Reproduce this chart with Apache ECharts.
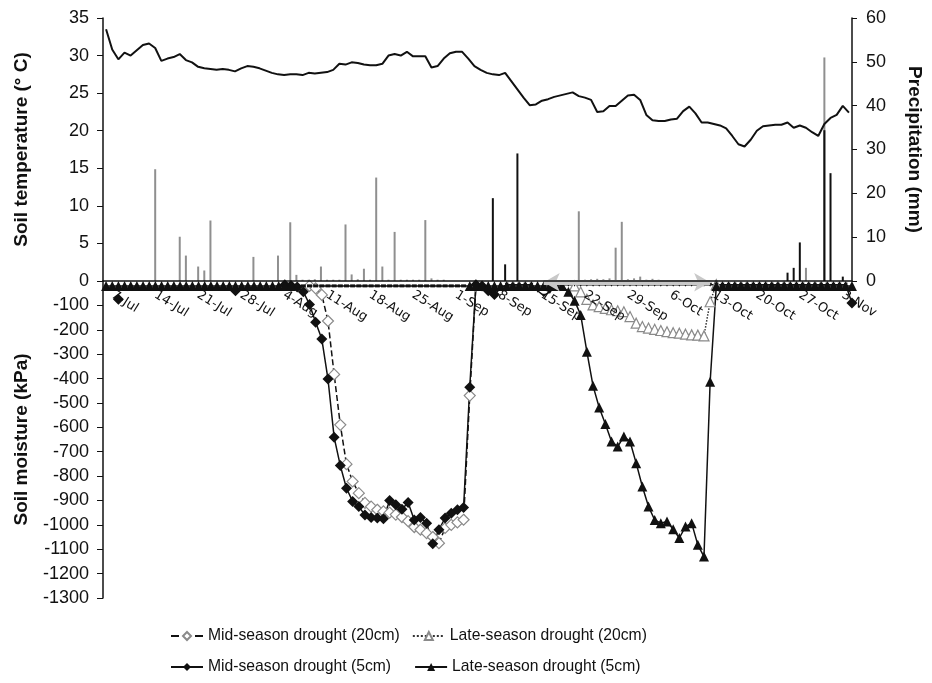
<!DOCTYPE html>
<html>
<head>
<meta charset="utf-8">
<title>Soil temperature, precipitation and soil moisture</title>
<script src="https://cdn.jsdelivr.net/npm/echarts@6.0.0/dist/echarts.min.js"></script>
<style>
  html, body { margin: 0; padding: 0; background: #fff; }
  #chart { width: 932px; height: 683px; }
</style>
</head>
<body>
<div id="chart"></div>
<script>
// days on the x axis, 6-Jul .. 4-Nov
const months = [['Jul', 6, 31], ['Aug', 1, 31], ['Sep', 1, 30], ['Oct', 1, 31], ['Nov', 1, 4]];
const days = [];
months.forEach(([m, from, to]) => {
  for (let d = from; d <= to; d++) days.push(d + '-' + m);
});

const weekLabels = ['7-Jul', '14-Jul', '21-Jul', '28-Jul', '4-Aug', '11-Aug', '18-Aug', '25-Aug', '1-Sep',
  '8-Sep', '15-Sep', '22-Sep', '29-Sep', '6-Oct', '13-Oct', '20-Oct', '27-Oct', '3-Nov'];

// soil temperature (°C), one value per day
const soilTemp = [
  33.5, 30.8, 29.5, 30.4, 30.0, 30.7, 31.4, 31.6, 31.0, 29.3,
  29.6, 29.8, 30.2, 29.4, 29.1, 28.5, 28.3, 28.2, 28.1, 28.2,
  28.1, 27.9, 28.3, 28.6, 28.5, 28.3, 28.0, 27.7, 27.5, 27.4,
  27.5, 27.5, 27.4, 27.7, 27.6, 27.7, 27.8, 28.1, 28.9, 28.8,
  29.1, 29.0, 28.8, 28.7, 28.7, 28.9, 30.0, 30.2, 30.0, 30.5,
  29.9, 29.9, 29.9, 28.4, 28.6, 29.6, 30.3, 30.5, 30.5, 29.6,
  28.6, 28.1, 27.7, 27.5, 27.4, 27.7, 26.6, 25.5, 24.4, 23.4,
  23.5, 24.0, 24.2, 24.5, 24.7, 24.9, 25.1, 24.6, 24.4, 24.1,
  22.5, 22.6, 23.3, 23.3, 24.0, 24.7, 24.8, 24.1, 22.1, 21.4,
  21.3, 21.3, 21.5, 21.6, 22.6, 23.2, 22.3, 21.1, 21.1, 20.9,
  20.7, 20.3, 19.3, 18.2, 17.9, 18.8, 20.0, 20.6, 20.7, 20.8,
  20.8, 21.1, 20.4, 20.7, 20.4, 19.8, 19.3, 20.9, 21.7, 22.1,
  23.3, 22.4
];

// precipitation (mm): day index -> amount
const rainDay = [8, 12, 13, 15, 16, 17, 24, 28, 30,
  31, 32, 33, 34, 35, 36, 37, 38, 39, 40, 41, 42, 43, 44, 45, 46, 47, 48, 49, 50, 51, 52, 53, 54, 55,
  77, 78, 79, 80, 81, 82, 83, 84, 85, 86, 87, 88, 89, 90, 114, 117];
const rainMm = [25.5, 10.1, 5.8, 3.3, 2.4, 13.8, 5.5, 5.8, 13.4,
  1.4, 0.3, 0.3, 0.4, 3.3, 0.3, 0.3, 0.3, 12.9, 1.5, 0.4, 2.8, 0.3, 23.6, 3.3, 0.3, 11.2, 0.3, 0.3, 0.3, 0.3, 13.9, 0.6, 0.3, 0.3,
  15.9, 0.3, 0.4, 0.5, 0.4, 0.6, 7.6, 13.5, 0.4, 0.6, 1.0, 0.3, 0.5, 0.3, 3.0, 51.0];
// black bars
const irrDay = [63, 65, 67, 111, 112, 113, 117, 118, 120];
const irrMm = [18.9, 3.8, 29.1, 1.9, 3.0, 8.8, 34.4, 24.6, 1.0];

// soil moisture (kPa)
const mid20cm = [
  null, null, null, null, null, null, null, null, null, null,
  null, null, null, null, null, null, null, null, null, null,
  null, null, null, null, null, null, null, null, null, null,
  null, null, null, -20, -30, -57, -164, -383, -590, -751,
  -822, -870, -910, -925, -938, -945, -950, -958, -968, -985,
  -1009, -1020, -1034, -1050, -1075, -1013, -1000, -990, -979, -470,
  -20, null, null, null, null, null, null, null, null, null,
  null, null, null, null, null, null, null, null, null, null,
  null, null, null, null, null, null, null, null, null, null,
  null, null, null, null, null, null, null, null, null, null,
  null, null, null, null, null, null, null, null, null, null,
  null, null, null, null, null, null, null, null, null, null,
  null, null
];
const late20cm = [
  null, null, null, null, null, null, null, null, null, null,
  null, null, null, null, null, null, null, null, null, null,
  null, null, null, null, null, null, null, null, null, null,
  null, null, null, null, null, null, null, null, null, null,
  null, null, null, null, null, null, null, null, null, null,
  null, null, null, null, null, null, null, null, null, null,
  null, null, null, null, null, null, null, null, null, null,
  null, null, null, null, null, null, -20, -45, -75, -98,
  -105, -112, -118, -122, -126, -146, -173, -187, -193, -198,
  -203, -208, -212, -214, -218, -221, -222, -225, -85, -15,
  null, null, null, null, null, null, null, null, null, null,
  null, null, null, null, null, null, null, null, null, null,
  null, null
];
const mid5cm = [
  null, null, -75, null, null, null, null, null, null, null,
  null, null, null, null, null, null, null, null, null, null,
  null, -40, null, null, null, null, null, null, null, -15,
  -18, -25, -44, -96, -169, -238, -402, -641, -757, -850,
  -904, -925, -960, -970, -972, -975, -900, -918, -936, -908,
  -980, -970, -993, -1078, -1020, -972, -952, -938, -929, -436,
  -15, -20, -40, -55, -30, -15, -15, -15, -15, -15,
  -40, -60, -45, -15, -15, -15, -15, -15, -15, -15,
  -15, -15, -15, -15, -15, -15, -15, -15, -15, -15,
  -15, -15, -15, -15, -15, -15, -15, -15, -15, -15,
  -15, -15, -15, -15, -15, -15, -15, -15, -15, -15,
  -15, -15, -15, -15, -15, -15, -15, -15, -15, -15,
  -15, -90
];
const late5cm = [
  -20, -20, -20, -20, -20, -20, -20, -20, -20, -20,
  -20, -20, -20, -20, -20, -20, -20, -20, -20, -20,
  -20, -20, -20, -20, -20, -20, -20, -20, -20, -20,
  -20, -20, -20, -20, -20, -20, -20, -20, -20, -20,
  -20, -20, -20, -20, -20, -20, -20, -20, -20, -20,
  -20, -20, -20, -20, -20, -20, -20, -20, -20, -20,
  -20, -20, -20, -20, -20, -20, -20, -20, -20, -20,
  -20, -20, -20, -20, -20, -44, -81, -139, -290, -430,
  -519, -586, -658, -679, -638, -658, -747, -843, -925, -980,
  -993, -986, -1018, -1054, -1007, -993, -1082, -1130, -413, -20,
  -20, -20, -20, -20, -20, -20, -20, -20, -20, -20,
  -20, -20, -20, -20, -20, -20, -20, -20, -20, -20,
  -20, -20
];

// drought window shown by the grey arrow
const arrowFrom = 71, arrowTo = 98;

const rain = days.map(() => null);
rainDay.forEach((d, k) => { rain[d] = rainMm[k] });
const irrigation = days.map(() => null);
irrDay.forEach((d, k) => { irrigation[d] = irrMm[k] });

// small marks where the series sit on the axis
const mid5Data = mid5cm.map((v, i) => (i >= 64 && i < 121 && v !== null)
  ? { value: v, symbol: 'triangle', symbolRotate: 180, symbolSize: 4 } : v);
const late5Data = late5cm.map((v, i) => (i >= 31 && i <= 58)
  ? { value: v, symbol: 'rect', symbolSize: [5, 3] } : v);

const ink = '#111';
const axisLine = { show: true, lineStyle: { color: ink, width: 1.5 } };
const tickFont = { fontFamily: 'Liberation Sans', fontSize: 18, color: ink };
const nameFont = { fontFamily: 'Liberation Sans', fontSize: 19, fontWeight: 'bold', color: ink };
const legendFont = { fontFamily: 'Liberation Sans', fontSize: 15.7, color: ink };
const plain = v => String(v);

const chart = echarts.init(document.getElementById('chart'));
chart.setOption({
  animation: false,
  grid: [
    { left: 103, right: 77, top: 18, height: 263 },
    { left: 103, right: 77, top: 281, height: 317 }
  ],
  xAxis: [
    {
      type: 'category', gridIndex: 0, data: days,
      axisLine: axisLine, axisTick: { show: false },
      axisLabel: {
        interval: (i, v) => weekLabels.includes(v),
        rotate: -32, margin: 13,
        fontFamily: 'DejaVu Sans', fontSize: 13, color: ink
      },
      z: 10
    },
    { type: 'category', gridIndex: 1, data: days, show: false }
  ],
  yAxis: [
    {
      type: 'value', gridIndex: 0, position: 'left', min: 0, max: 35, interval: 5,
      name: 'Soil temperature (° C)', nameLocation: 'middle', nameGap: 72, nameTextStyle: nameFont,
      axisLine: axisLine, axisTick: { show: true, length: 6, lineStyle: { color: ink } },
      axisLabel: Object.assign({ margin: 14 }, tickFont), splitLine: { show: false }
    },
    {
      type: 'value', gridIndex: 0, position: 'right', min: 0, max: 60, interval: 10,
      name: 'Precipitation (mm)', nameLocation: 'middle', nameRotate: -90, nameGap: 53, nameTextStyle: nameFont,
      axisLine: axisLine, axisTick: { show: true, length: 5, lineStyle: { color: ink } },
      axisLabel: Object.assign({ margin: 14 }, tickFont), splitLine: { show: false }
    },
    {
      type: 'value', gridIndex: 1, position: 'left', min: -1300, max: 0, interval: 100,
      name: 'Soil moisture (kPa)', nameLocation: 'middle', nameGap: 72, nameTextStyle: nameFont,
      axisLine: axisLine, axisTick: { show: true, length: 6, lineStyle: { color: ink } },
      axisLabel: Object.assign({ margin: 14, showMaxLabel: false, formatter: plain }, tickFont),
      splitLine: { show: false }
    }
  ],
  legend: [
    {
      data: ['Mid-season drought (20cm)', 'Late-season drought (20cm)'],
      left: 165, top: 623, itemGap: 12, itemWidth: 32, itemHeight: 10, textStyle: legendFont
    },
    {
      data: ['Mid-season drought (5cm)', 'Late-season drought (5cm)'],
      left: 165, top: 654, itemGap: 23, itemWidth: 32, itemHeight: 10, textStyle: legendFont
    }
  ],
  series: [
    {
      name: 'Rain', type: 'bar', xAxisIndex: 0, yAxisIndex: 1, data: rain,
      barWidth: 2, barGap: '-100%', itemStyle: { color: '#8f8f8f' }, silent: true
    },
    {
      name: 'Irrigation', type: 'bar', xAxisIndex: 0, yAxisIndex: 1, data: irrigation,
      barWidth: 2, barGap: '-100%', itemStyle: { color: ink }, silent: true
    },
    {
      name: 'Soil temperature', type: 'line', xAxisIndex: 0, yAxisIndex: 0, data: soilTemp,
      showSymbol: false, lineStyle: { color: ink, width: 2 }, z: 5, silent: true
    },
    {
      name: 'Mid-season drought (20cm)', type: 'line', xAxisIndex: 1, yAxisIndex: 2, data: mid20cm,
      symbol: 'diamond', symbolSize: 11, showAllSymbol: true,
      itemStyle: { color: '#fff', borderColor: '#8a8a8a', borderWidth: 1.2 },
      lineStyle: { color: ink, width: 1.5, type: 'dashed' }
    },
    {
      name: 'Late-season drought (20cm)', type: 'line', xAxisIndex: 1, yAxisIndex: 2, data: late20cm,
      symbol: 'triangle', symbolSize: 10, showAllSymbol: true,
      itemStyle: { color: '#fff', borderColor: '#8a8a8a', borderWidth: 1.2 },
      lineStyle: { color: '#333', width: 1.5, type: 'dotted' }
    },
    {
      name: 'Mid-season drought (5cm)', type: 'line', xAxisIndex: 1, yAxisIndex: 2, data: mid5Data,
      symbol: 'diamond', symbolSize: 11, showAllSymbol: true,
      itemStyle: { color: ink }, lineStyle: { color: ink, width: 1.5 }
    },
    {
      name: 'Late-season drought (5cm)', type: 'line', xAxisIndex: 1, yAxisIndex: 2, data: late5Data,
      symbol: 'triangle', symbolSize: 10, showAllSymbol: true,
      itemStyle: { color: ink }, lineStyle: { color: ink, width: 1.5 },
      markLine: {
        silent: true, symbol: ['arrow', 'arrow'], symbolSize: [14, 16],
        label: { show: false },
        lineStyle: { color: '#c8c8c8', width: 5, type: 'solid' },
        data: [[{ coord: [days[arrowFrom], -5] }, { coord: [days[arrowTo], -5] }]]
      }
    }
  ]
});
</script>
</body>
</html>
